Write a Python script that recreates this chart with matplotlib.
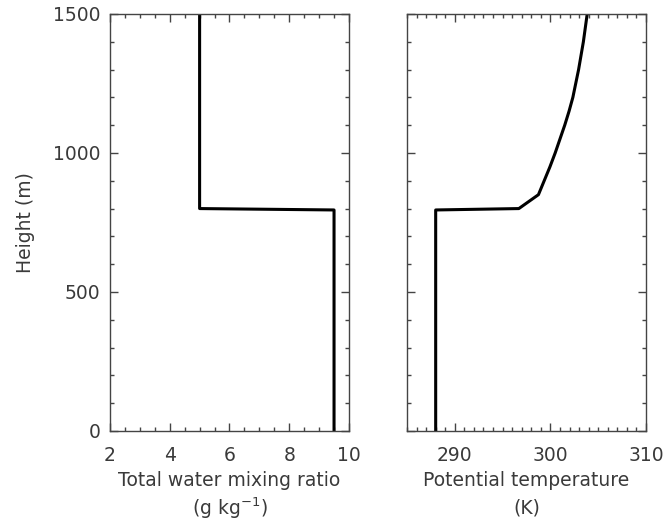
import matplotlib
matplotlib.use("Agg")
import matplotlib.pyplot as plt
from matplotlib.ticker import MultipleLocator

# Initial profiles: height (m) against total water and potential temperature
z_qt = [0, 795, 800, 1500]
qt = [9.5, 9.5, 5.0, 5.0]

z_theta = [0, 795, 800, 850, 900, 950, 1000, 1050, 1100, 1150, 1200,
           1250, 1300, 1350, 1400, 1450, 1500]
theta = [288.0, 288.0, 296.7, 298.75, 299.35, 299.95, 300.5, 301.0, 301.5,
         301.95, 302.35, 302.65, 302.95, 303.2, 303.45, 303.65, 303.85]

plt.rcParams['font.family'] = ['DejaVu Sans']
plt.rcParams['font.size'] = 13.5
text_col = '#3a3a3a'
axis_col = '#444444'

fig = plt.figure(figsize=(6.67, 5.29), dpi=100)
ax1 = fig.add_axes([0.1649, 0.1853, 0.3583, 0.7883])
ax2 = fig.add_axes([0.6102, 0.1853, 0.3583, 0.7883])

ax1.plot(qt, z_qt, color='black', lw=2.2)
ax2.plot(theta, z_theta, color='black', lw=2.2)

for ax in (ax1, ax2):
    ax.set_ylim(0, 1500)
    ax.yaxis.set_major_locator(MultipleLocator(500))
    ax.yaxis.set_minor_locator(MultipleLocator(100))
    ax.tick_params(which='both', direction='in', top=True, right=True,
                   color=axis_col, labelcolor=text_col, width=1.0)
    ax.tick_params(which='major', length=6)
    ax.tick_params(which='minor', length=3)
    ax.tick_params(axis='x', pad=11)
    ax.tick_params(axis='y', pad=7)
    for s in ax.spines.values():
        s.set_color(axis_col)
        s.set_linewidth(1.0)

ax1.set_xlim(2, 10)
ax1.xaxis.set_major_locator(MultipleLocator(2))
ax1.xaxis.set_minor_locator(MultipleLocator(0.5))
ax1.set_xlabel('Total water mixing ratio\n(g kg$^{-1}$)', color=text_col,
               labelpad=4, linespacing=1.3)
ax1.set_ylabel('Height (m)', color=text_col, labelpad=13)

ax2.set_xlim(285, 310)
ax2.xaxis.set_major_locator(MultipleLocator(10))
ax2.xaxis.set_minor_locator(MultipleLocator(1))
ax2.set_xticks([290, 300, 310])
ax2.set_yticklabels([])
ax2.set_xlabel('Potential temperature\n(K)', color=text_col,
               labelpad=4, linespacing=1.6)

fig.savefig('out.png', dpi=100)
